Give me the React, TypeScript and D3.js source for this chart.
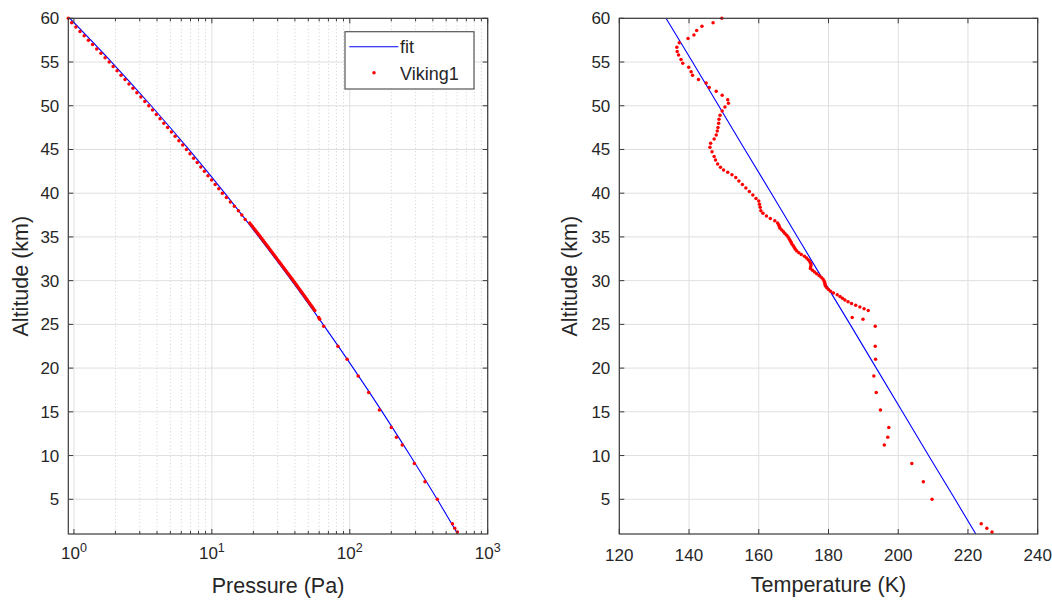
import React from 'react';
import * as d3 from 'd3';

// ---------- data ----------
const fitAltitude = [1.03, 5, 10, 15, 20, 25, 30, 35, 40, 45, 50, 55, 60];
const fitPressure = [606, 430, 274, 172, 106, 64.0, 37.9, 21.9, 12.4, 6.81, 3.63, 1.875, 0.934];
const fitTemperature = [222.25, 216.3, 208.7, 201.2, 193.7, 186.2, 178.6, 171.1, 163.6, 156.0, 148.5, 141.0, 133.4];

const pressureAltitude = [
  60, 59.5, 59, 58.5, 58, 57.5, 57, 56.5, 56, 55.5, 55, 54.5, 54, 53.5, 53, 52.5, 52, 51.5, 51, 50.5,
  50, 49.5, 49, 48.5, 48, 47.5, 47, 46.5, 46, 45.5, 45, 44.5, 44, 43.5, 43, 42.5, 42, 41.5, 41, 40.5,
  40, 39.5, 39, 38.5, 38, 37.5, 37,
  36.6, 36.4, 36.2, 36.0, 35.8, 35.6, 35.4, 35.2, 35.0, 34.8, 34.6, 34.4, 34.2, 34.0, 33.8, 33.6, 33.4,
  33.2, 33.0, 32.8, 32.6, 32.4, 32.2, 32.0, 31.8, 31.6, 31.4, 31.2, 31.0, 30.8, 30.6, 30.4, 30.2, 30.0,
  29.8, 29.6, 29.4, 29.2, 29.0, 28.8, 28.6, 28.4, 28.2, 28.0, 27.8, 27.6, 27.4, 27.2, 27.0, 26.8, 26.6,
  25.8, 25.6, 24.8, 22.5, 21.0, 19.1, 17.2, 15.2, 13.2, 12.1, 11.2, 9.1, 7.0, 5.0, 2.2, 1.7, 1.25,
];
const pressureValues = [
  0.91, 0.963, 1.033, 1.107, 1.187, 1.273, 1.365, 1.463, 1.569, 1.682, 1.801, 1.924, 2.056, 2.196, 2.346,
  2.506, 2.678, 2.86, 3.056, 3.264, 3.487, 3.713, 3.954, 4.211, 4.484, 4.776, 5.086, 5.416, 5.768, 6.142,
  6.541, 6.945, 7.374, 7.83, 8.315, 8.829, 9.375, 9.954, 10.57, 11.22, 11.92, 12.74, 13.62, 14.56, 15.57,
  16.48, 17.44,
  18.8, 19.24, 19.68, 20.13, 20.6, 21.07, 21.56, 22.05, 22.56, 23.06, 23.57, 24.1, 24.63, 25.18, 25.74,
  26.31, 26.89, 27.49, 28.1, 28.72, 29.36, 30.01, 30.67, 31.35, 32.05, 32.76, 33.48, 34.22, 34.98, 35.76,
  36.55, 37.36, 38.19, 39.03, 39.86, 40.71, 41.58, 42.45, 43.38, 44.3, 45.24, 46.2, 47.19, 48.19, 49.17,
  50.21, 51.27, 52.36, 53.47, 54.6, 55.76,
  59.5, 60.5, 64.7, 82, 95.7, 115, 137, 164, 200, 218, 240, 294, 351, 431, 555, 577, 603,
];

const temperatureAltitude = [
  60.0, 59.5, 59.1, 58.6, 58.1, 57.7, 57.2, 56.7, 56.2, 55.8, 55.3, 54.85, 54.4, 53.9, 53.5, 53.0, 52.6,
  52.1, 51.65, 51.2, 50.7, 50.3, 49.85, 49.4, 48.9, 48.45, 48.0, 47.5, 47.1, 46.65, 46.2, 45.7, 45.25,
  44.75, 44.2, 43.8, 43.35, 42.96, 42.65, 42.4, 42.1, 41.8, 41.4, 41.0, 40.6, 40.2, 39.8, 39.4, 39.1,
  38.75, 38.4, 38.0, 37.7, 37.4, 37.1, 36.85,
  36.6, 36.4, 36.2, 36.0, 35.8, 35.6, 35.4, 35.2, 35.0, 34.8, 34.6, 34.4, 34.2, 34.0, 33.8, 33.6, 33.4,
  33.2, 33.0, 32.8, 32.6, 32.4, 32.2, 32.0, 31.8, 31.6, 31.4, 31.2, 31.0, 30.8, 30.6, 30.4, 30.2, 30.0,
  29.8, 29.6, 29.4, 29.2, 29.0, 28.8, 28.6, 28.4, 28.2, 28.0, 27.8, 27.6, 27.4, 27.2, 27.0, 26.8, 26.6,
  25.8, 25.6, 24.8, 22.5, 21.0, 19.1, 17.2, 15.2, 13.2, 12.1, 11.2, 9.1, 7.0, 5.0, 2.2, 1.7, 1.25,
];
const temperatureValues = [
  149.4, 146.9, 143.7, 142.2, 141.4, 139.7, 137.2, 136.5, 136.6, 137.0, 137.7, 138.2, 139.9, 140.6, 141.0,
  142.7, 144.9, 145.8, 147.8, 149.5, 151.1, 151.3, 150.3, 149.5, 148.9, 148.6, 148.5, 148.3, 148.1, 147.8,
  147.2, 146.2, 146.0, 146.6, 147.2, 147.6, 148.2, 149.0, 149.9, 151.1, 152.3, 153.4, 154.3, 155.3, 156.3,
  157.3, 158.3, 159.2, 160.0, 160.2, 160.4, 160.6, 161.2, 162.2, 163.3, 164.6,
  165.4, 165.7, 165.9, 166.1, 166.6, 167.1, 167.5, 168.0, 168.4, 168.7, 169.0, 169.3, 169.5, 169.9, 170.2,
  170.5, 170.9, 171.5, 172.2, 173.1, 173.7, 174.2, 174.6, 174.9, 175.0, 174.9, 174.8, 175.4, 176.0, 176.6,
  177.3, 177.9, 178.4, 178.7, 178.9, 179.0, 179.1, 179.5, 180.0, 180.6, 181.4, 182.5, 183.3, 184.0, 184.7,
  185.6, 186.6, 187.8, 189.0, 190.2, 191.4,
  186.8, 189.9, 193.4, 193.4, 193.5, 193.0, 193.7, 194.9, 197.3, 197.0, 196.0, 203.9, 207.2, 209.7, 223.8,
  225.4, 226.9,
];

const altitudeTicks = [5, 10, 15, 20, 25, 30, 35, 40, 45, 50, 55, 60];
const pressureTicks = [1, 10, 100, 1000];
const pressureTickExponents = ['0', '1', '2', '3'];
const temperatureTicks = [120, 140, 160, 180, 200, 220, 240];
const legendLabels = ['fit', 'Viking1'];

// ---------- layout ----------
const W = 1052;
const H = 601;
const Y_TOP = 18.3;
const Y_BOT = 534;
const L_X0 = 68.3, L_X1 = 487.7;
const R_X0 = 619.3, R_X1 = 1037.7;

const FONT = '"Liberation Sans", Arial, Helvetica, sans-serif';
const TXT = '#262626';
const AXIS = '#3a3a3a';
const GRID = '#dfdfdf';
const MINOR_GRID = '#cfcfcf';
const RED = '#ff0000';
const BLUE = '#0000ff';

const yScale = d3.scaleLinear().domain([1.03, 60]).range([Y_BOT, Y_TOP]);
const xP = d3.scaleLog().domain([0.91, 1000]).range([L_X0, L_X1]);
const xT = d3.scaleLinear().domain([120, 240]).range([R_X0, R_X1]);

function zip(a: number[], b: number[]) {
  const n = Math.min(a.length, b.length);
  const out: [number, number][] = [];
  for (let i = 0; i < n; i++) out.push([a[i], b[i]]);
  return out;
}

const pressurePts = zip(pressureValues, pressureAltitude);
const temperaturePts = zip(temperatureValues, temperatureAltitude);
const fitPPts = zip(fitPressure, fitAltitude);
const fitTPts = zip(fitTemperature, fitAltitude);

const minorP: number[] = [];
[1, 10, 100].forEach((d) => {
  for (let k = 2; k <= 9; k++) minorP.push(d * k);
});

function YAxis({ x0, x1 }: { x0: number; x1: number }) {
  return (
    <g>
      {altitudeTicks.map((t) => {
        const y = yScale(t);
        return (
          <g key={t}>
            <line x1={x0} x2={x0 + 5} y1={y} y2={y} stroke={AXIS} strokeWidth={1} />
            <line x1={x1} x2={x1 - 5} y1={y} y2={y} stroke={AXIS} strokeWidth={1} />
            <text x={x0 - 9} y={y} dy="0.35em" textAnchor="end" fontSize={17} fill={TXT} fontFamily={FONT}>
              {t}
            </text>
          </g>
        );
      })}
    </g>
  );
}

function Box({ x0, x1 }: { x0: number; x1: number }) {
  return (
    <rect x={x0} y={Y_TOP} width={x1 - x0} height={Y_BOT - Y_TOP} fill="none" stroke={AXIS} strokeWidth={1.2} />
  );
}

export default function App() {
  const lineP = d3
    .line<[number, number]>()
    .x((d) => xP(d[0]))
    .y((d) => yScale(d[1]))
    .curve(d3.curveCatmullRom);
  const lineT = d3
    .line<[number, number]>()
    .x((d) => xT(d[0]))
    .y((d) => yScale(d[1]));

  return (
    <svg
      width={W}
      height={H}
      viewBox={`0 0 ${W} ${H}`}
      style={{ position: 'absolute', left: 0, top: 0, background: '#fff' }}
    >
      <defs>
        <clipPath id="clipL">
          <rect x={L_X0} y={Y_TOP} width={L_X1 - L_X0} height={Y_BOT - Y_TOP} />
        </clipPath>
        <clipPath id="clipR">
          <rect x={R_X0} y={Y_TOP} width={R_X1 - R_X0} height={Y_BOT - Y_TOP} />
        </clipPath>
      </defs>
      <rect x={0} y={0} width={W} height={H} fill="#fff" />

      {/* ---------- LEFT PANEL ---------- */}
      <g>
        {/* minor grid */}
        {minorP.map((v) => (
          <line
            key={'mg' + v}
            x1={xP(v)}
            x2={xP(v)}
            y1={Y_TOP}
            y2={Y_BOT}
            stroke={MINOR_GRID}
            strokeWidth={1}
            strokeDasharray="1,2.5"
          />
        ))}
        {/* major grid */}
        {pressureTicks.map((v) => (
          <line key={'g' + v} x1={xP(v)} x2={xP(v)} y1={Y_TOP} y2={Y_BOT} stroke={GRID} strokeWidth={1} />
        ))}
        {altitudeTicks.map((t) => (
          <line key={'gy' + t} x1={L_X0} x2={L_X1} y1={yScale(t)} y2={yScale(t)} stroke={GRID} strokeWidth={1} />
        ))}

        <path d={lineP(fitPPts) || ''} fill="none" stroke={BLUE} strokeWidth={1.1} clipPath="url(#clipL)" />
        {pressurePts.map((d, i) => (
          <circle key={'p' + i} cx={xP(d[0])} cy={yScale(d[1])} r={1.75} fill={RED} />
        ))}

        <Box x0={L_X0} x1={L_X1} />
        {/* x ticks */}
        {pressureTicks.map((v, i) => {
          const x = xP(v);
          return (
            <g key={'xt' + v}>
              <line x1={x} x2={x} y1={Y_BOT} y2={Y_BOT - 5} stroke={AXIS} />
              <line x1={x} x2={x} y1={Y_TOP} y2={Y_TOP + 5} stroke={AXIS} />
              <text x={x} y={559} textAnchor="middle" fontSize={17} fill={TXT} fontFamily={FONT}>
                10
                <tspan dy={-7} fontSize={12.5}>
                  {pressureTickExponents[i]}
                </tspan>
              </text>
            </g>
          );
        })}
        {minorP.map((v) => {
          const x = xP(v);
          return (
            <g key={'mt' + v}>
              <line x1={x} x2={x} y1={Y_BOT} y2={Y_BOT - 3} stroke={AXIS} />
              <line x1={x} x2={x} y1={Y_TOP} y2={Y_TOP + 3} stroke={AXIS} />
            </g>
          );
        })}
        <YAxis x0={L_X0} x1={L_X1} />

        <text x={(L_X0 + L_X1) / 2} y={593} textAnchor="middle" fontSize={21.5} fill={TXT} fontFamily={FONT}>
          Pressure (Pa)
        </text>
        <text
          transform={`translate(28,${(Y_TOP + Y_BOT) / 2}) rotate(-90)`}
          textAnchor="middle"
          fontSize={21.5}
          fill={TXT}
          fontFamily={FONT}
        >
          Altitude (km)
        </text>

        {/* legend */}
        <g>
          <rect x={345} y={31.7} width={129} height={57.3} fill="#fff" stroke="#555" strokeWidth={1.2} />
          <line x1={349.3} x2={398.3} y1={46.7} y2={46.7} stroke={BLUE} strokeWidth={1.1} />
          <text x={400} y={53} fontSize={18} fill={TXT} fontFamily={FONT}>
            {legendLabels[0]}
          </text>
          <circle cx={374} cy={72.7} r={1.75} fill={RED} />
          <text x={400} y={80} fontSize={18} fill={TXT} fontFamily={FONT}>
            {legendLabels[1]}
          </text>
        </g>
      </g>

      {/* ---------- RIGHT PANEL ---------- */}
      <g>
        {temperatureTicks.map((v) => (
          <line key={'gt' + v} x1={xT(v)} x2={xT(v)} y1={Y_TOP} y2={Y_BOT} stroke={GRID} strokeWidth={1} />
        ))}
        {altitudeTicks.map((t) => (
          <line key={'gyr' + t} x1={R_X0} x2={R_X1} y1={yScale(t)} y2={yScale(t)} stroke={GRID} strokeWidth={1} />
        ))}

        <path d={lineT(fitTPts) || ''} fill="none" stroke={BLUE} strokeWidth={1.1} clipPath="url(#clipR)" />
        {temperaturePts.map((d, i) => (
          <circle key={'t' + i} cx={xT(d[0])} cy={yScale(d[1])} r={1.75} fill={RED} />
        ))}

        <Box x0={R_X0} x1={R_X1} />
        {temperatureTicks.map((v) => {
          const x = xT(v);
          return (
            <g key={'xtt' + v}>
              <line x1={x} x2={x} y1={Y_BOT} y2={Y_BOT - 5} stroke={AXIS} />
              <line x1={x} x2={x} y1={Y_TOP} y2={Y_TOP + 5} stroke={AXIS} />
              <text x={x} y={561} textAnchor="middle" fontSize={17} fill={TXT} fontFamily={FONT}>
                {v}
              </text>
            </g>
          );
        })}
        <YAxis x0={R_X0} x1={R_X1} />

        <text x={(R_X0 + R_X1) / 2} y={592} textAnchor="middle" fontSize={21.5} fill={TXT} fontFamily={FONT}>
          Temperature (K)
        </text>
        <text
          transform={`translate(577,${(Y_TOP + Y_BOT) / 2}) rotate(-90)`}
          textAnchor="middle"
          fontSize={21.5}
          fill={TXT}
          fontFamily={FONT}
        >
          Altitude (km)
        </text>
      </g>
    </svg>
  );
}
